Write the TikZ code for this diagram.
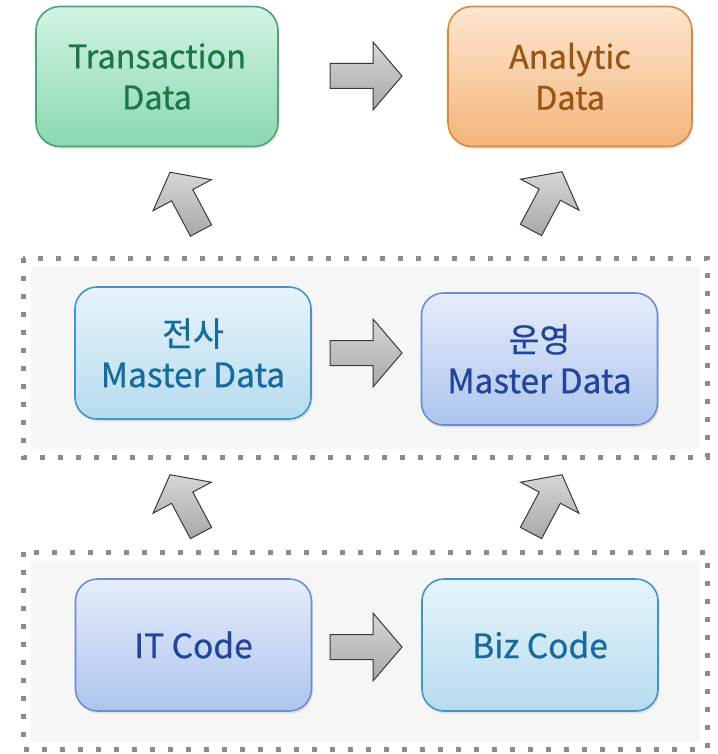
\documentclass[tikz,border=0pt]{standalone}
\usepackage{fontspec}
\setmainfont{Noto Sans CJK KR}[FakeBold=0.7]
\usetikzlibrary{shadows}
\definecolor{grtop}{HTML}{D2F4E4}\definecolor{grbot}{HTML}{8AD8B2}\definecolor{grbd}{HTML}{4DA37A}\definecolor{grtx}{HTML}{1D7548}
\definecolor{ortop}{HTML}{FDE6CF}\definecolor{orbot}{HTML}{F4B57A}\definecolor{orbd}{HTML}{D68A40}\definecolor{ortx}{HTML}{9A5516}
\definecolor{lbtop}{HTML}{E7F4FB}\definecolor{lbbot}{HTML}{B6DBEE}\definecolor{lbbd}{HTML}{3D97CC}\definecolor{lbtx}{HTML}{176A9C}
\definecolor{pwtop}{HTML}{E6EDFB}\definecolor{pwbot}{HTML}{AEC4EE}\definecolor{pwbd}{HTML}{6B8DD6}\definecolor{pwtx}{HTML}{22449A}
\definecolor{dotc}{HTML}{8C8C8C}\definecolor{panelbg}{HTML}{F6F6F6}
\definecolor{arlight}{HTML}{D6D6D6}\definecolor{ardark}{HTML}{6A6A6A}\definecolor{armid}{HTML}{A8A8A8}\definecolor{arline}{HTML}{3A3A3A}
\begin{document}
\begin{tikzpicture}[x=1pt,y=-1pt,
  boxbase/.style={rounded corners=24pt, line width=1.6pt, align=center, inner sep=0pt,
    drop shadow={opacity=0.18, shadow xshift=1.5pt, shadow yshift=-2.5pt}},
  greenbox/.style={boxbase, draw=grbd, top color=grtop, bottom color=grbot, text=grtx,
    minimum width=242pt, minimum height=140pt, font=\fontsize{32.5}{41}\selectfont},
  orangebox/.style={boxbase, draw=orbd, top color=ortop, bottom color=orbot, text=ortx,
    minimum width=244pt, minimum height=140pt, font=\fontsize{32.5}{41}\selectfont},
  lbbox/.style={boxbase, rounded corners=22pt, draw=lbbd, top color=lbtop, bottom color=lbbot, text=lbtx,
    minimum width=236pt, minimum height=132pt, font=\fontsize{33.5}{41}\selectfont},
  pwbox/.style={boxbase, rounded corners=22pt, draw=pwbd, top color=pwtop, bottom color=pwbot, text=pwtx,
    minimum width=236pt, minimum height=132pt, font=\fontsize{33.5}{41}\selectfont},
  dotframe/.style={draw=dotc, line width=5pt, dash pattern=on 5pt off 13pt},
  arrowfill/.style={draw=arline, line width=1pt, line join=miter}
]
\useasboundingbox (0,0) rectangle (717,754);

% panels
\fill[panelbg] (31,267) rectangle (700,449);
\draw[dotframe] (23,258) rectangle (707,457);
\fill[panelbg] (31,561) rectangle (700,742);
\draw[dotframe] (23,552) rectangle (707,749);

% boxes
\node[greenbox] (trans) at (157,76.5) {Transaction\\Data};
\node[orangebox] (anal) at (570,76.5) {Analytic\\Data};
\node[lbbox] (jeonsa) at (193,353) {전사\\Master Data};
\node[pwbox] (unyeong) at (539.5,359) {운영\\Master Data};
\node[pwbox] (itcode) at (193.5,645) {IT Code};
\node[lbbox] (bizcode) at (540,645) {Biz Code};

% horizontal block arrows
\foreach \yy in {76,353,647}{
  \shade[arrowfill, top color=arlight, middle color=ardark, bottom color=armid]
    (330,\yy-12.5) -- (373,\yy-12.5) -- (373,\yy-34) -- (402,\yy) -- (373,\yy+34)
    -- (373,\yy+12.5) -- (330,\yy+12.5) -- cycle;
}

% slanted up arrows
\foreach \tx/\ty/\ang/\sa in {201/230.5/118/28, 531/230/62/-28, 201/533/118/28, 531/533/62/-28}{
  \begin{scope}[shift={(\tx,\ty)}, rotate=\ang]
    \shade[arrowfill, shading angle=\sa, top color=arlight, middle color=ardark, bottom color=armid]
      (0,-12) -- (40,-12) -- (40,-33) -- (66,0) -- (40,33) -- (40,12) -- (0,12) -- cycle;
  \end{scope}
}
\end{tikzpicture}
\end{document}
